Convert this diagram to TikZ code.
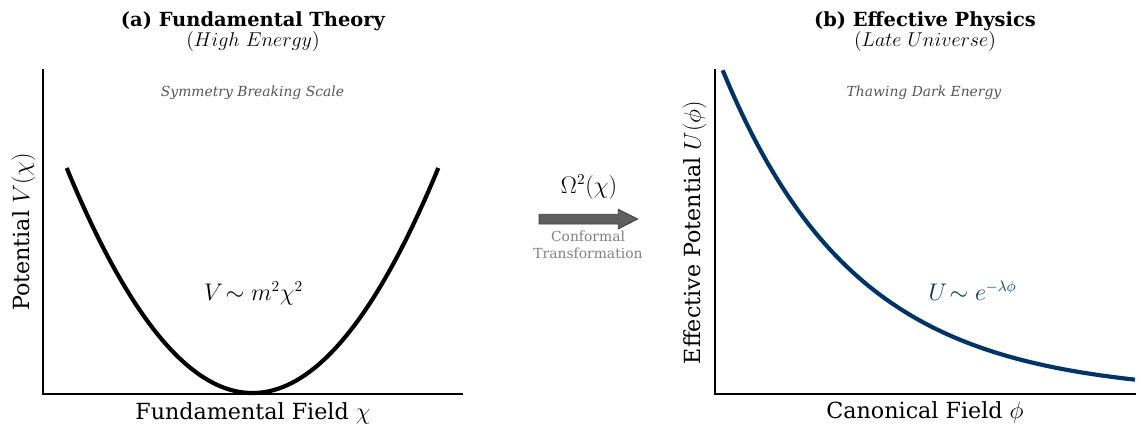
\documentclass[tikz,border=0pt]{standalone}
\usepackage{fontspec}
\setmainfont{DejaVu Serif}
\definecolor{navy}{RGB}{0,51,102}
\definecolor{annot}{RGB}{85,85,85}
\definecolor{convgray}{RGB}{128,128,128}
\definecolor{arrowfill}{RGB}{96,96,96}
\definecolor{arrowedge}{RGB}{60,60,60}
\begin{document}
\begin{tikzpicture}[x=0.72pt,y=-0.72pt,
  titlestyle/.style={font=\fontsize{14}{17}\selectfont\bfseries, anchor=base, inner sep=0pt},
  subtitlestyle/.style={font=\fontsize{14}{17}\selectfont, anchor=base, inner sep=0pt},
  axislabel/.style={font=\fontsize{16}{19}\selectfont, anchor=base, inner sep=0pt},
  annotstyle/.style={font=\fontsize{10}{12}\selectfont\itshape, text=annot, anchor=base, inner sep=0pt},
  formula/.style={font=\fontsize{16}{19}\selectfont, anchor=base, inner sep=0pt},
  convlabel/.style={font=\fontsize{10}{12}\selectfont, text=convgray, anchor=base, inner sep=0pt},
  spine/.style={line width=0.8pt, black},
  curve/.style={line width=3pt}
]
\useasboundingbox (0,0) rectangle (1144,435);

% ---- panel (a)
\node[titlestyle] (ta) at (253,26.7) {(a) Fundamental Theory};
\node[subtitlestyle] (sa) at (253,46.7) {$(High\ Energy)$};
\draw[spine] (43,69) -- (43,394) -- (463,394);
\draw[curve] plot[domain=66.7:438.3, samples=150] (\x, {393 - 225*((\x-252.5)/185.8)^2});
\node[annotstyle] (na) at (252.5,96.7) {Symmetry Breaking Scale};
\node[formula] (fa) at (253.5,300.7) {$V\!\sim m^2\chi^2$};
\node[axislabel] (xa) at (253,419.3) {Fundamental Field $\chi$};
\node[axislabel, rotate=90] (ya) at (29.3,232) {Potential $V(\chi)$};

% ---- transformation arrow
\fill[arrowfill, draw=arrowedge, line width=0.6pt]
  (539,214.3) -- (618.3,214.3) -- (618.3,209.3) -- (637.7,219) -- (618.3,228.9) -- (618.3,224) -- (539,224) -- cycle;
\node[formula] (om) at (589,193.3) {$\Omega^2(\chi)$};
\node[convlabel] (c1) at (588,241.7) {Conformal};
\node[convlabel] (c2) at (588,258.7) {Transformation};

% ---- panel (b)
\node[titlestyle] (tb) at (925,26.7) {(b) Effective Physics};
\node[subtitlestyle] (sb) at (925,46.7) {$(Late\ Universe)$};
\draw[spine] (715,69) -- (715,394) -- (1135.5,394);
\draw[curve, navy] plot[domain=722.7:1135, samples=150] (\x, {394.3 - 324*exp(-0.0075*(\x-722.7))});
\node[annotstyle] (nb) at (924,96.7) {Thawing Dark Energy};
\node[formula, text=navy] (fb) at (972.5,300) {$U\!\sim e^{-\lambda\phi}$};
\node[axislabel] (xb) at (925,418.5) {Canonical Field $\phi$};
\node[axislabel, rotate=90] (yb) at (700.7,232.5) {Effective Potential $U(\phi)$};
\end{tikzpicture}
\end{document}
